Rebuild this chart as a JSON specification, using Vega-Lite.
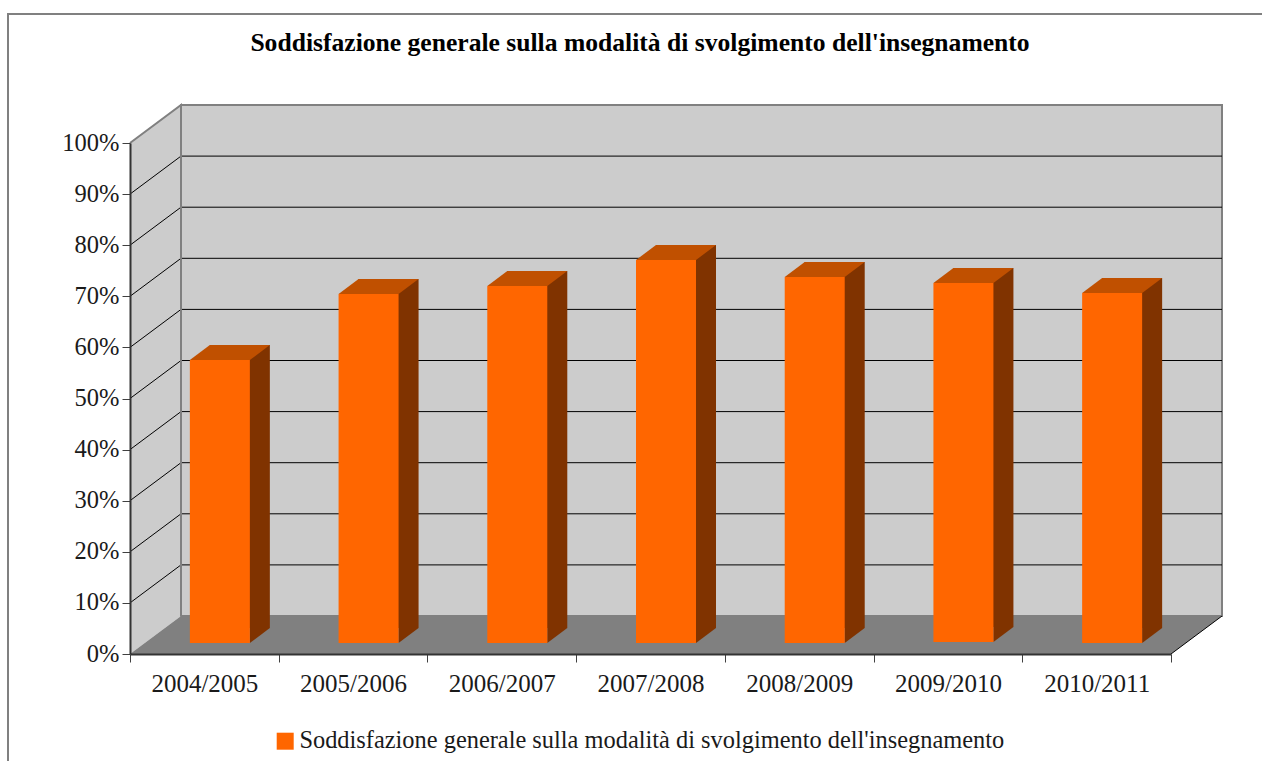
{
"$schema":"https://vega.github.io/schema/vega-lite/v6.json",
"width":1041,"height":511,
"autosize":"none",
"padding":{"left":130,"top":143,"right":91,"bottom":107},
"background":"#ffffff",
"title":{"text":"Soddisfazione generale sulla modalità di svolgimento dell'insegnamento","font":"Liberation Serif","fontSize":25.6,"fontWeight":"bold","color":"#000000","anchor":"middle","dx":-10.5,"offset":-47},
"config":{"view":{"stroke":null}},
"data":{"values":[
{"year":"2004/2005","value":0.5538,"base":0},
{"year":"2005/2006","value":0.683,"base":0},
{"year":"2006/2007","value":0.6986,"base":0},
{"year":"2007/2008","value":0.7495,"base":0},
{"year":"2008/2009","value":0.7162,"base":0},
{"year":"2009/2010","value":0.7045,"base":0.002},
{"year":"2010/2011","value":0.685,"base":0}
]},
"encoding":{
"x":{"field":"year","type":"nominal","title":null,"sort":null,"scale":{"paddingInner":0,"paddingOuter":0},
"axis":{"labelAngle":0,"labelFont":"Liberation Serif","labelFontSize":25,"labelColor":"#1a1a1a","labelPadding":9,"tickBand":"extent","tickSize":8,"tickColor":"#404040","tickWidth":1,"domainColor":"#333333","domainWidth":2,"zindex":1}}
},
"layer":[
{"data":{"values":[{"part":"frame"}]},
 "mark":{"type":"point","filled":false,"opacity":1,"stroke":"#808080","strokeWidth":2,"size":4,"shape":"M-122,120 L-122,-640 L1140,-640"},
 "encoding":{"x":{"value":0},"y":{"datum":0,"type":"quantitative"}}},
{"data":{"values":[{"part":"back wall"}]},
 "mark":{"type":"point","filled":true,"opacity":1,"fill":"#cccccc","stroke":"#808080","strokeWidth":2,"size":4,"shape":"M51,-38 L51,-549 L1092,-549 L1092,-38 Z"},
 "encoding":{"x":{"value":0},"y":{"datum":0,"type":"quantitative"}}},
{"data":{"values":[{"part":"side wall"}]},
 "mark":{"type":"point","filled":true,"opacity":1,"fill":"#cccccc","stroke":null,"size":4,"shape":"M0,0 L0,-511 L51,-549 L51,-38 Z"},
 "encoding":{"x":{"value":0},"y":{"datum":0,"type":"quantitative"}}},
{"data":{"values":[{"tick":0.1},{"tick":0.2},{"tick":0.3},{"tick":0.4},{"tick":0.5},{"tick":0.6},{"tick":0.7},{"tick":0.8},{"tick":0.9}]},
 "mark":{"type":"point","filled":false,"opacity":1,"stroke":"#000000","strokeWidth":1,"size":4,"shape":"M0,0 L51,-38 L1092,-38"},
 "encoding":{"x":{"value":0},"y":{"field":"tick","type":"quantitative"}}},
{"data":{"values":[{"part":"floor"}]},
 "mark":{"type":"point","filled":true,"opacity":1,"fill":"#808080","stroke":null,"size":4,"shape":"M0,0 L51,-38 L1092,-38 L1041,0 Z"},
 "encoding":{"x":{"value":0},"y":{"datum":0,"type":"quantitative"}}},
{"data":{"values":[{"part":"edges"}]},
 "mark":{"type":"point","filled":false,"opacity":1,"stroke":"#808080","strokeWidth":2,"size":4,"shape":"M0,-511 L51,-549 L51,-38"},
 "encoding":{"x":{"value":0},"y":{"datum":0,"type":"quantitative"}}},
{"data":{"values":[{"part":"edges"}]},
 "mark":{"type":"point","filled":false,"opacity":1,"stroke":"#000000","strokeWidth":1,"size":4,"shape":"M1041,0 L1092,-38"},
 "encoding":{"x":{"value":0},"y":{"datum":0,"type":"quantitative"}}},
{"mark":{"type":"bar","size":60,"color":"#803300","xOffset":35.5,"yOffset":-26,"y2Offset":-26},
 "encoding":{"y":{"field":"value","type":"quantitative"},"y2":{"field":"base"}}},
{"mark":{"type":"point","filled":true,"opacity":1,"fill":"#803300","stroke":null,"size":4,"shape":"M45.5,-11 L65.5,-26 L45.5,-26 Z"},
 "encoding":{"y":{"field":"base","type":"quantitative"}}},
{"mark":{"type":"point","filled":true,"opacity":1,"fill":"#c05000","stroke":null,"size":4,"shape":"M-14.5,-11 L45.5,-11 L65.5,-26 L5.5,-26 Z"},
 "encoding":{"y":{"field":"value","type":"quantitative"}}},
{"mark":{"type":"bar","size":60,"xOffset":15.5,"yOffset":-11,"y2Offset":-11},
 "encoding":{
  "y":{"field":"value","type":"quantitative","title":null,"scale":{"domain":[0,1]},
   "axis":{"values":[0,0.1,0.2,0.3,0.4,0.5,0.6,0.7,0.8,0.9,1],"format":".0%","labelFont":"Liberation Serif","labelFontSize":24.5,"labelColor":"#1a1a1a","labelPadding":3,"tickSize":8,"tickColor":"#404040","tickWidth":1,"domainColor":"#333333","domainWidth":2,"grid":false,"zindex":1}},
  "y2":{"field":"base"},
  "color":{"datum":"Soddisfazione generale sulla modalità di svolgimento dell'insegnamento","type":"nominal","scale":{"range":["#ff6600"]},
   "legend":{"title":null,"orient":"none","legendX":143,"legendY":586,"padding":0,"symbolType":"square","symbolSize":289,"symbolStrokeWidth":0,"labelFont":"Liberation Serif","labelFontSize":24.4,"labelColor":"#1a1a1a","labelOffset":2,"labelLimit":900}}
 }}
]
}
